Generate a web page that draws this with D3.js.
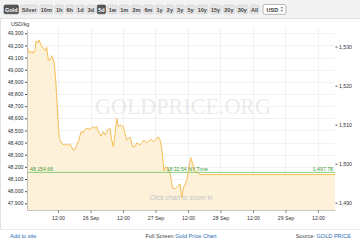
<!DOCTYPE html>
<html>
<head>
<meta charset="utf-8">
<script src="https://cdn.jsdelivr.net/npm/d3@7"></script>
<style>
	body { margin: 0; background: #fff; }
	svg { display: block; font-family: "Liberation Sans", Arial, sans-serif; }
</style>
</head>
<body>
<svg id="svg-gold" width="360" height="241"></svg>
<script>
// Range buttons along the top
const buttonLabels = ["Gold", "Silver", "10m", "1h", "6h", "1d", "3d", "5d", "1w", "1m", "2m", "6m",
	"1y", "2y", "3y", "5y", "10y", "15y", "20y", "30y", "All"];
const activeButtons = ["Gold", "5d"];
const currencyLabel = "USD";

// Gold price, USD/kg
const times = [
	"2019-09-25 00:33", "2019-09-25 01:02", "2019-09-25 01:40", "2019-09-25 02:17", "2019-09-25 02:53",
	"2019-09-25 03:30", "2019-09-25 03:53", "2019-09-25 04:30", "2019-09-25 04:59", "2019-09-25 05:43",
	"2019-09-25 06:34", "2019-09-25 07:12", "2019-09-25 07:50", "2019-09-25 08:25", "2019-09-25 09:03",
	"2019-09-25 09:40", "2019-09-25 10:16", "2019-09-25 10:38", "2019-09-25 11:09", "2019-09-25 11:38",
	"2019-09-25 12:07", "2019-09-25 12:29", "2019-09-25 13:22", "2019-09-25 14:20", "2019-09-25 15:13",
	"2019-09-25 15:48", "2019-09-25 16:26", "2019-09-25 17:04", "2019-09-25 17:39", "2019-09-25 18:17",
	"2019-09-25 18:54", "2019-09-25 19:45", "2019-09-25 20:30", "2019-09-25 21:21", "2019-09-25 21:58",
	"2019-09-25 22:36", "2019-09-25 23:49", "2019-09-26 01:02", "2019-09-26 01:40", "2019-09-26 02:17",
	"2019-09-26 02:53", "2019-09-26 03:53", "2019-09-26 04:44", "2019-09-26 05:21", "2019-09-26 06:21",
	"2019-09-26 07:12", "2019-09-26 07:50", "2019-09-26 08:25", "2019-09-26 09:03", "2019-09-26 09:41",
	"2019-09-26 10:16", "2019-09-26 11:16", "2019-09-26 12:07", "2019-09-26 13:22", "2019-09-26 14:35",
	"2019-09-26 15:35", "2019-09-26 16:26", "2019-09-26 17:04", "2019-09-26 18:17", "2019-09-26 19:45",
	"2019-09-26 20:45", "2019-09-26 22:14", "2019-09-26 23:12", "2019-09-27 01:02", "2019-09-27 01:40",
	"2019-09-27 02:18", "2019-09-27 03:09", "2019-09-27 03:53", "2019-09-27 04:44", "2019-09-27 05:22",
	"2019-09-27 06:21", "2019-09-27 07:12", "2019-09-27 08:03", "2019-09-27 09:03", "2019-09-27 09:41",
	"2019-09-27 10:16", "2019-09-27 11:32", "2019-09-27 12:07", "2019-09-27 13:00", "2019-09-27 13:45",
	"2019-09-27 14:36", "2019-09-27 15:26", "2019-09-27 16:26", "2019-09-27 17:33", "2019-09-29 18:17"
];
const prices = [
	49190, 49168, 49135, 49154, 49135,
	49162, 49237, 49222, 49245, 49204,
	49176, 49157, 49185, 49080, 49080,
	49115, 49086, 49053, 48915, 48726,
	48531, 48435, 48394, 48380, 48388,
	48380, 48388, 48361, 48339, 48345,
	48380, 48421, 48490, 48481, 48509,
	48518, 48509, 48531, 48518, 48531,
	48490, 48454, 48490, 48462, 48504,
	48518, 48421, 48366, 48471, 48600,
	48531, 48545, 48531, 48421, 48446,
	48364, 48366, 48397, 48380, 48421,
	48397, 48430, 48407, 48448, 48421,
	48355, 48166, 48201, 48182, 48147,
	48026, 48018, 48038, 48059, 47944,
	48026, 48084, 48166, 48277, 48224,
	48166, 48154, 48137, 48137, 48137
];

// Axes
const timeDomain = ["2019-09-25 00:33", "2019-09-29 18:17"];
const kgDomain = [47845, 49327];
const leftTicks = [47900, 48000, 48100, 48200, 48300, 48400, 48500, 48600, 48700, 48800, 48900, 49000, 49100, 49200, 49300];
const rightTicks = [1490, 1500, 1510, 1520, 1530];
const xTickTimes = ["2019-09-25 12:00", "2019-09-26 00:00", "2019-09-26 12:00", "2019-09-27 00:00", "2019-09-27 12:00",
	"2019-09-28 00:00", "2019-09-28 12:00", "2019-09-29 00:00", "2019-09-29 12:00"];
const OZ_PER_KG = 32.1507;

// Last quote
const lastPriceKg = 48154.66;
const lastPriceOz = 1497.78;
const lastTimeLabel = "18:32:54 NY Time";

const MARGIN = {top: 30, right: 25, bottom: 31, left: 27};
const WIDTH = 360, HEIGHT = 241;
const PLOT_RIGHT = WIDTH - MARGIN.right;
const PLOT_BOTTOM = HEIGHT - MARGIN.bottom;

const parseTime = d3.utcParse("%Y-%m-%d %H:%M");
const data = times.map((t, i) => ({time: parseTime(t), price: prices[i]}));

const xScale = d3.scaleUtc().domain(timeDomain.map(parseTime)).range([MARGIN.left, PLOT_RIGHT]);
const yScale = d3.scaleLinear().domain(kgDomain).range([PLOT_BOTTOM, MARGIN.top]);
const yScaleOz = d3.scaleLinear().domain(kgDomain.map(d => d / OZ_PER_KG)).range([PLOT_BOTTOM, MARGIN.top]);

const svg = d3.select("#svg-gold");
svg.append("rect").attr("width", WIDTH).attr("height", HEIGHT).attr("fill", "#fff");

/** ------------------------------ button bar ------------------------------ **/
svg.append("rect").attr("width", WIDTH).attr("height", 18).attr("fill", "#f3f3f3");
svg.append("line").attr("x1", 0).attr("x2", WIDTH).attr("y1", 18.5).attr("y2", 18.5).attr("stroke", "#e0e0e0");

const bar = svg.append("g").attr("font-size", 5.5).attr("font-weight", "bold");
const btn = bar.selectAll("g.btn").data(buttonLabels).enter().append("g").classed("btn", true);
btn.append("rect");
btn.append("text").text(d => d).attr("text-anchor", "middle").attr("y", 11.7)
	.attr("fill", d => activeButtons.includes(d) ? "#fff" : "#444");

// spread the buttons from x=4 to x=259 using the measured text widths
const textWidths = [];
btn.select("text").each(function() { textWidths.push(this.getComputedTextLength()); });
const GAP = 2.2;
const pad = (259 - 4 - d3.sum(textWidths) - GAP * (buttonLabels.length - 1)) / (2 * buttonLabels.length);
let cursor = 4;
btn.each(function(d, i) {
	const w = textWidths[i] + 2 * pad;
	const g = d3.select(this);
	g.select("rect").attr("x", cursor).attr("y", 5).attr("width", w).attr("height", 8.8).attr("rx", 1.2)
		.attr("fill", activeButtons.includes(d) ? "#575757" : "#e6e6e6")
		.attr("stroke", activeButtons.includes(d) ? "#444" : "#cfcfcf").attr("stroke-width", 0.6);
	g.select("text").attr("x", cursor + w / 2);
	cursor += w + GAP;
});

const sel = bar.append("g");
sel.append("rect").attr("x", 263).attr("y", 4.5).attr("width", 23).attr("height", 9.8).attr("rx", 1.8)
	.attr("fill", "#fff").attr("stroke", "#9a9a9a").attr("stroke-width", 0.7);
sel.append("text").attr("x", 266.5).attr("y", 11.7).attr("fill", "#333").text(currencyLabel);
sel.append("path").attr("d", "M280.5,8.3l1.3,-1.6l1.3,1.6z M280.5,10.2l1.3,1.6l1.3,-1.6z").attr("fill", "#555");

/** ------------------------------ chart ------------------------------ **/
svg.append("line").attr("x1", 0.5).attr("x2", 0.5).attr("y1", 19).attr("y2", 229).attr("stroke", "#e2e2e2");

svg.append("text").attr("x", 11).attr("y", 26).attr("font-size", 5.3).attr("fill", "#333").text("USD/kg");

// grid
const grid = svg.append("g").attr("stroke", "#ececec").attr("stroke-width", 0.7);
grid.selectAll(".hg").data(leftTicks).enter().append("line")
	.attr("x1", MARGIN.left).attr("x2", PLOT_RIGHT)
	.attr("y1", d => Math.round(yScale(d)) + 0.5).attr("y2", d => Math.round(yScale(d)) + 0.5);
grid.selectAll(".vg").data(xTickTimes.map(parseTime)).enter().append("line")
	.attr("y1", MARGIN.top - 2).attr("y2", PLOT_BOTTOM)
	.attr("x1", d => Math.round(xScale(d)) + 0.5).attr("x2", d => Math.round(xScale(d)) + 0.5);

// area + line
const area = d3.area().curve(d3.curveLinear)
	.x(d => xScale(d.time)).y0(PLOT_BOTTOM).y1(d => yScale(d.price));
const line = d3.line().curve(d3.curveLinear)
	.x(d => xScale(d.time)).y(d => yScale(d.price));

svg.append("path").datum(data).attr("fill", "#fdf1da").attr("d", area);

// watermark
svg.append("text").attr("x", 183).attr("y", 114).attr("text-anchor", "middle")
	.attr("font-family", "'Liberation Serif', 'DejaVu Serif', serif").attr("font-size", 23)
	.attr("textLength", 176).attr("lengthAdjust", "spacingAndGlyphs")
	.attr("fill", "#d8d8d8").attr("fill-opacity", 0.5).text("GOLDPRICE.ORG");

svg.append("path").datum(data).attr("fill", "none").attr("stroke", "#f7be55")
	.attr("stroke-width", 1).attr("stroke-linejoin", "round").attr("d", line);

svg.append("text").attr("x", 181).attr("y", 200).attr("text-anchor", "middle")
	.attr("font-size", 6.6).attr("fill", "#c4c4c4").text("Click chart to zoom in");

// last price line
const yLast = yScale(lastPriceKg);
svg.append("line").attr("x1", MARGIN.left).attr("x2", PLOT_RIGHT).attr("y1", yLast).attr("y2", yLast)
	.attr("stroke", "#7bc96b").attr("stroke-width", 0.9);
const lastLabels = svg.append("g").attr("font-size", 5.2).attr("fill", "#3f9b35");
lastLabels.append("text").attr("x", 30).attr("y", yLast - 1.5).text(d3.format(",.2f")(lastPriceKg));
lastLabels.append("text").attr("x", 166.5).attr("y", yLast - 1.2).text(lastTimeLabel);
lastLabels.append("text").attr("x", PLOT_RIGHT - 2).attr("y", yLast - 1.5).attr("text-anchor", "end")
	.text(d3.format(",.2f")(lastPriceOz));

// left axis (USD/kg)
svg.append("g")
	.attr("transform", `translate(${MARGIN.left}, 0)`)
	.call(d3.axisLeft(yScale).tickValues(leftTicks).tickFormat(d3.format(",")).tickSize(2).tickPadding(1.5).tickSizeOuter(0))
	.call(g => g.select(".domain").attr("stroke", "#b5b5b5").attr("stroke-width", 0.8))
	.call(g => g.selectAll(".tick line").attr("stroke", "#555"))
	.call(g => g.selectAll("text").attr("font-size", 5.2).attr("fill", "#333").attr("font-family", null));

// right axis (USD/oz)
svg.append("g")
	.attr("transform", `translate(${PLOT_RIGHT + 0.5}, 0)`)
	.call(d3.axisRight(yScaleOz).tickValues(rightTicks).tickFormat(d3.format(",")).tickSize(2).tickPadding(1.5))
	.call(g => g.select(".domain").remove())
	.call(g => g.selectAll(".tick line").attr("stroke", "#555"))
	.call(g => g.selectAll("text").attr("font-size", 5.2).attr("fill", "#333").attr("font-family", null));

// bottom axis
const xFormat = d => d.getUTCHours() === 0 ? d3.utcFormat("%-d %b")(d) : d3.utcFormat("%H:%M")(d);
svg.append("g")
	.attr("transform", `translate(0, ${PLOT_BOTTOM})`)
	.call(d3.axisBottom(xScale).tickValues(xTickTimes.map(parseTime)).tickFormat(xFormat).tickSize(3).tickPadding(3).tickSizeOuter(0))
	.call(g => g.select(".domain").attr("stroke", "#b5b5b5").attr("stroke-width", 0.8))
	.call(g => g.selectAll(".tick line").attr("stroke", "#888"))
	.call(g => g.selectAll("text").attr("font-size", 5.2).attr("fill", "#333").attr("font-family", null));

/** ------------------------------ footer ------------------------------ **/
svg.append("line").attr("x1", 0).attr("x2", WIDTH).attr("y1", 229.5).attr("y2", 229.5).attr("stroke", "#ebebeb");
const footer = svg.append("g").attr("font-size", 5.6);
footer.append("text").attr("x", 10).attr("y", 238).attr("fill", "#2d6db5").text("Add to site");
const mid = footer.append("text").attr("x", 181).attr("y", 238).attr("text-anchor", "middle");
mid.append("tspan").attr("fill", "#444").text("Full Screen ");
mid.append("tspan").attr("fill", "#2d6db5").text("Gold Price Chart");
const src = footer.append("text").attr("x", 351).attr("y", 238).attr("text-anchor", "end");
src.append("tspan").attr("fill", "#444").text("Source: ");
src.append("tspan").attr("fill", "#2d6db5").text("GOLD PRICE");
</script>
</body>
</html>
